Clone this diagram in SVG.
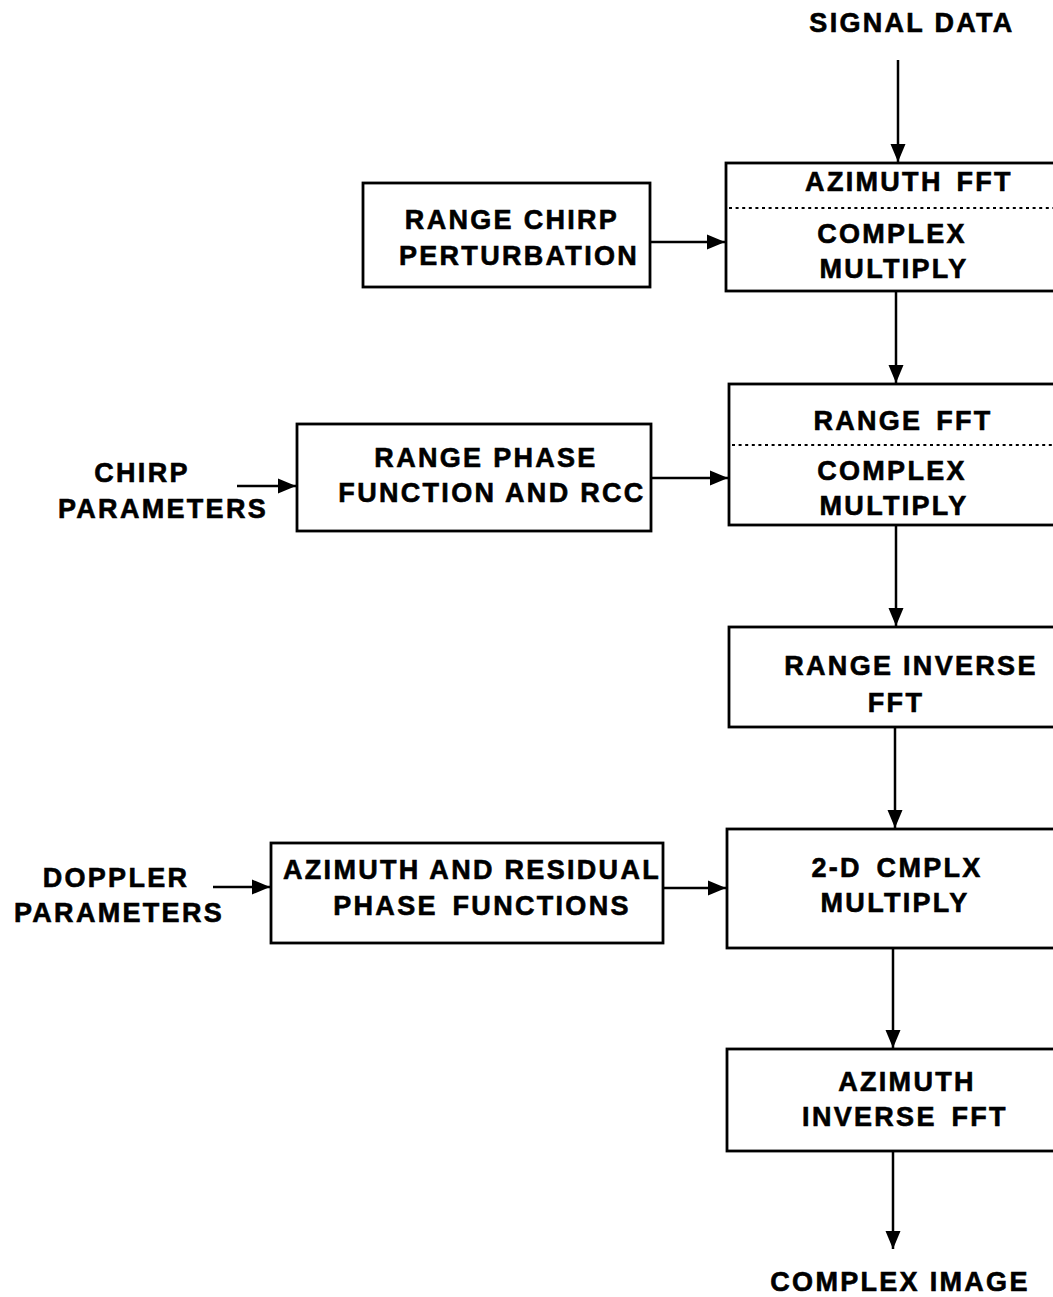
<svg xmlns="http://www.w3.org/2000/svg" width="1053" height="1297" viewBox="0 0 1053 1297">
<style>
  .box { fill: #fff; stroke: #000; stroke-width: 2.8; }
  .dot { stroke: #000; stroke-width: 2; stroke-dasharray: 3 3.6; fill: none; }
  .t { font-family: "Liberation Sans", Arial, sans-serif; font-weight: bold; font-size: 27px; letter-spacing: 2.3px; text-anchor: middle; fill: #000; stroke: #000; stroke-width: 0.6; }
  .c { stroke: #000; stroke-width: 2.5; fill: none; marker-end: url(#ah); }
</style>
<defs>
  <marker id="ah" markerUnits="userSpaceOnUse" markerWidth="19" markerHeight="18" refX="18" refY="9" orient="auto">
    <path d="M0,1.5 L18,9 L0,16.5 z" fill="#000"/>
  </marker>
</defs>
<rect width="1053" height="1297" fill="#fff"/>

<g id="connectors">
  <line class="c" x1="898" y1="60" x2="898" y2="162"/>
  <line class="c" x1="896" y1="291" x2="896" y2="383"/>
  <line class="c" x1="896" y1="525" x2="896" y2="626"/>
  <line class="c" x1="895" y1="727" x2="895" y2="828"/>
  <line class="c" x1="893" y1="948" x2="893" y2="1048"/>
  <line class="c" x1="893" y1="1151" x2="893" y2="1249"/>
  <line class="c" x1="650" y1="242" x2="725" y2="242"/>
  <line class="c" x1="651" y1="478" x2="728" y2="478"/>
  <line class="c" x1="237" y1="486" x2="296" y2="486"/>
  <line class="c" x1="663" y1="888" x2="726" y2="888"/>
  <line class="c" x1="213" y1="887" x2="270" y2="887"/>
</g>

<g id="signal_data">
  <text class="t" x="912" y="32">SIGNAL DATA</text>
</g>

<g id="azimuth_fft">
  <rect class="box" x="726" y="163" width="340" height="128"/>
  <line class="dot" x1="729" y1="208" x2="1053" y2="208"/>
  <text class="t" x="909" y="191" word-spacing="4">AZIMUTH FFT</text>
  <text class="t" x="892" y="243">COMPLEX</text>
  <text class="t" x="894" y="278">MULTIPLY</text>
</g>

<g id="range_chirp_perturbation">
  <rect class="box" x="363" y="183" width="287" height="104"/>
  <text class="t" x="512" y="229">RANGE CHIRP</text>
  <text class="t" x="519" y="265">PERTURBATION</text>
</g>

<g id="range_fft">
  <rect class="box" x="729" y="384" width="340" height="141"/>
  <line class="dot" x1="732" y1="445" x2="1053" y2="445"/>
  <text class="t" x="903" y="430" word-spacing="4">RANGE FFT</text>
  <text class="t" x="892" y="480">COMPLEX</text>
  <text class="t" x="894" y="515">MULTIPLY</text>
</g>

<g id="chirp_parameters">
  <text class="t" x="142" y="482">CHIRP</text>
  <text class="t" x="163" y="518">PARAMETERS</text>
</g>

<g id="range_phase_function">
  <rect class="box" x="297" y="424" width="354" height="107"/>
  <text class="t" x="486" y="467">RANGE PHASE</text>
  <text class="t" x="492" y="502">FUNCTION AND RCC</text>
</g>

<g id="range_inverse_fft">
  <rect class="box" x="729" y="627" width="340" height="100"/>
  <text class="t" x="911" y="675">RANGE INVERSE</text>
  <text class="t" x="896" y="712">FFT</text>
</g>

<g id="doppler_parameters">
  <text class="t" x="116" y="887">DOPPLER</text>
  <text class="t" x="119" y="922">PARAMETERS</text>
</g>

<g id="azimuth_residual_phase">
  <rect class="box" x="271" y="843" width="392" height="100"/>
  <text class="t" x="472" y="879">AZIMUTH AND RESIDUAL</text>
  <text class="t" x="482" y="915" word-spacing="5">PHASE FUNCTIONS</text>
</g>

<g id="cmplx_multiply_2d">
  <rect class="box" x="727" y="829" width="340" height="119"/>
  <text class="t" x="897" y="877" word-spacing="5">2-D CMPLX</text>
  <text class="t" x="895" y="912">MULTIPLY</text>
</g>

<g id="azimuth_inverse_fft">
  <rect class="box" x="727" y="1049" width="340" height="102"/>
  <text class="t" x="907" y="1091">AZIMUTH</text>
  <text class="t" x="905" y="1126" word-spacing="5">INVERSE FFT</text>
</g>

<g id="complex_image">
  <text class="t" x="900" y="1291">COMPLEX IMAGE</text>
</g>
</svg>
